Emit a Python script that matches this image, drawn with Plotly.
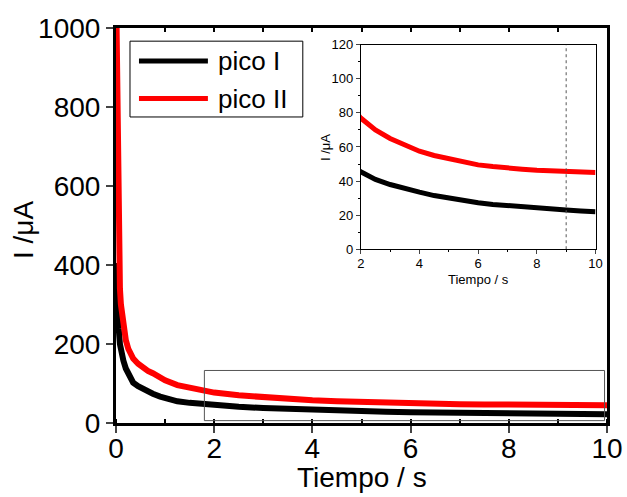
import plotly.graph_objects as go

# ---- data ----
tiempo = [0.002, 0.01, 0.02, 0.035, 0.055, 0.08, 0.1, 0.12, 0.15, 0.2, 0.25, 0.3,
          0.35, 0.45, 0.55, 0.65, 0.75, 0.9, 1.0, 1.25, 1.5, 1.75, 2.0, 2.5, 3.0,
          3.5, 4.0, 4.5, 5.0, 5.5, 6.0, 6.5, 7.0, 7.5, 8.0, 8.5, 9.0, 9.5, 10.0]
pico_I = [405, 370, 336, 280, 240, 200, 185, 175, 158, 138, 123, 112,
          102, 93, 86, 80, 74, 67, 63, 55, 51, 48, 45.5, 41, 38,
          35.5, 33.5, 31.5, 30, 28.5, 27.3, 26.3, 25.5, 24.8, 24, 23.5, 23, 22.5, 22]
pico_II = [1100, 1000, 880, 700, 430, 340, 300, 275, 245, 210, 188, 172,
           163, 150, 140, 132, 126, 115, 108, 96, 89, 82, 77, 70, 65,
           61, 57.5, 55, 53, 51, 49.5, 48.5, 47.5, 47, 46.3, 45.8, 45.5, 45, 45]
series_names = ["pico I", "pico II"]
main_x_ticks = [0, 2, 4, 6, 8, 10]
main_y_ticks = [0, 200, 400, 600, 800, 1000]
inset_x_ticks = [2, 4, 6, 8, 10]
inset_y_ticks = [0, 20, 40, 60, 80, 100, 120]

BLACK = "#000000"
RED = "#ff0000"
FONT = "Liberation Sans, Arial, sans-serif"

fig = go.Figure()
for ys, col, nm in [(pico_I, BLACK, series_names[0]), (pico_II, RED, series_names[1])]:
    fig.add_trace(go.Scatter(x=tiempo, y=ys, mode="lines", name=nm,
                             line=dict(color=col, width=6), xaxis="x", yaxis="y",
                             showlegend=False))
for ys, col, nm in [(pico_I, BLACK, series_names[0]), (pico_II, RED, series_names[1])]:
    fig.add_trace(go.Scatter(x=tiempo, y=ys, mode="lines", name=nm,
                             line=dict(color=col, width=5), xaxis="x2", yaxis="y2",
                             showlegend=False))
# invisible trace to carry the top (inward-tick) axis
fig.add_trace(go.Scatter(x=[tiempo[0]], y=[pico_I[-1]], mode="markers",
                         marker=dict(opacity=0), xaxis="x3", yaxis="y",
                         showlegend=False, hoverinfo="skip"))

# plot area in pixels: left 116, right 607.5, top 27.5, bottom 423.5
W, H = 627, 497
L, R, T, B = 116, 607.5, 27.5, 423.5
def px(x):
    return (x - L) / (R - L)
def py(y):
    return (B - y) / (B - T)

fig.update_layout(
    width=W, height=H,
    margin=dict(l=L, r=W - R, t=T, b=H - B, autoexpand=False),
    paper_bgcolor="white", plot_bgcolor="white",
    font=dict(family=FONT, color="black"),
    xaxis=dict(range=[0, 10], tickvals=main_x_ticks, ticks="outside", ticklen=7,
               tickwidth=2, showline=True, linewidth=3, linecolor="black",
               mirror=True, showgrid=False, zeroline=False, automargin=False,
               tickfont=dict(size=28), ticklabelstandoff=-9,
               minor=dict(dtick=1, ticks="inside", ticklen=4, tickwidth=1.5, tickcolor="black")),
    xaxis3=dict(range=[0, 10], overlaying="x", side="top", anchor="y", dtick=1,
                ticks="inside", ticklen=4, tickwidth=1.5, tickcolor="black",
                showticklabels=False, showgrid=False, zeroline=False, showline=False,
                automargin=False),
    yaxis=dict(range=[0, 1000], tickvals=main_y_ticks, ticks="outside", ticklen=7,
               tickwidth=2, showline=True, linewidth=3, linecolor="black",
               mirror=True, showgrid=False, zeroline=False, automargin=False,
               tickfont=dict(size=28), ticklabelstandoff=0),
    xaxis2=dict(domain=[px(361), px(596)], anchor="y2", range=[2, 10],
                tickvals=inset_x_ticks, ticks="outside", ticklen=4, tickwidth=1,
                showline=True, linewidth=1, linecolor="black", mirror=True,
                showgrid=False, zeroline=False, tickfont=dict(size=13), automargin=False,
                ticklabelstandoff=-2,
                minor=dict(dtick=1, ticks="outside", ticklen=2, tickcolor="black")),
    yaxis2=dict(domain=[py(249.3), py(44.3)], anchor="x2", range=[0, 120],
                tickvals=inset_y_ticks, ticks="outside", ticklen=4, tickwidth=1,
                showline=True, linewidth=1, linecolor="black", mirror=True,
                showgrid=False, zeroline=False, tickfont=dict(size=13), automargin=False,
                minor=dict(dtick=10, ticks="outside", ticklen=2, tickcolor="black")),
    showlegend=False,
)

# axis titles
fig.add_annotation(text="I /μA", xref="paper", yref="paper", x=px(24), y=py(230),
                   textangle=-90, showarrow=False, font=dict(size=28, family=FONT),
                   xanchor="center", yanchor="middle")
fig.add_annotation(text="Tiempo / s", xref="paper", yref="paper", x=px(362), y=py(478),
                   showarrow=False, font=dict(size=28, family=FONT),
                   xanchor="center", yanchor="middle")
fig.add_annotation(text="I /μA", xref="paper", yref="paper", x=px(325), y=py(147),
                   textangle=-90, showarrow=False, font=dict(size=13, family=FONT),
                   xanchor="center", yanchor="middle")
fig.add_annotation(text="Tiempo / s", xref="paper", yref="paper", x=px(479), y=py(280),
                   showarrow=False, font=dict(size=13, family=FONT),
                   xanchor="center", yanchor="middle")

# zoom rectangle on main plot
fig.add_shape(type="rect", xref="x", yref="y", x0=1.8, x1=9.95, y0=6, y1=133,
              line=dict(color="#555555", width=1))
# dotted marker in inset
fig.add_shape(type="line", xref="x2", yref="y2", x0=9, x1=9, y0=0, y1=120,
              line=dict(color="#555555", width=1, dash="dot"))

# legend box (drawn manually)
fig.add_shape(type="rect", xref="paper", yref="paper", x0=px(130), x1=px(303),
              y0=py(116.7), y1=py(40.7), line=dict(color="black", width=1),
              fillcolor="white", layer="below")
for yy, col, nm in [(60.7, BLACK, series_names[0]), (98.3, RED, series_names[1])]:
    fig.add_shape(type="line", xref="paper", yref="paper", x0=px(139), x1=px(208),
                  y0=py(yy), y1=py(yy), line=dict(color=col, width=5))
    fig.add_annotation(text=nm, xref="paper", yref="paper", x=px(216), y=py(yy),
                       showarrow=False, xanchor="left", yanchor="middle",
                       font=dict(size=26, family=FONT))

fig.write_html("out.html")
